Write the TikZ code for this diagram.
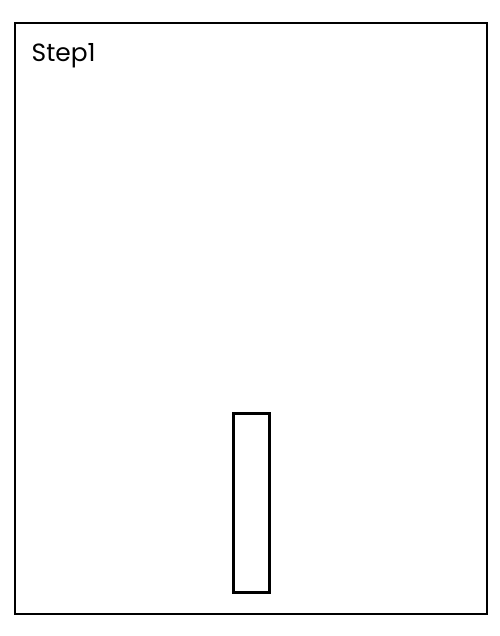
\documentclass[tikz,border=0pt]{standalone}
\usepackage{fontspec}
\setmainfont{Poppins}
\usepackage{tikz}
\usetikzlibrary{calc, positioning, shapes}

\begin{document}
\begin{tikzpicture}[x=1bp, y=1bp]

\tikzstyle{frame} = [draw, rectangle, line width=1.2bp, inner sep=0pt];
\tikzstyle{bar} = [draw, rectangle, line width=3bp, inner sep=0pt];

\useasboundingbox (0,0) rectangle (500,636);

\node(panel) [frame, minimum width=472bp, minimum height=591bp] at (251,317.5) {};

\node(title) [anchor=base west, inner sep=0pt, font=\fontsize{25}{30}\selectfont] at (31.5,574) {Step1};

\node(pillar) [bar, minimum width=36bp, minimum height=178bp] at (251,133) {};

	\end{tikzpicture}
\end{document}
